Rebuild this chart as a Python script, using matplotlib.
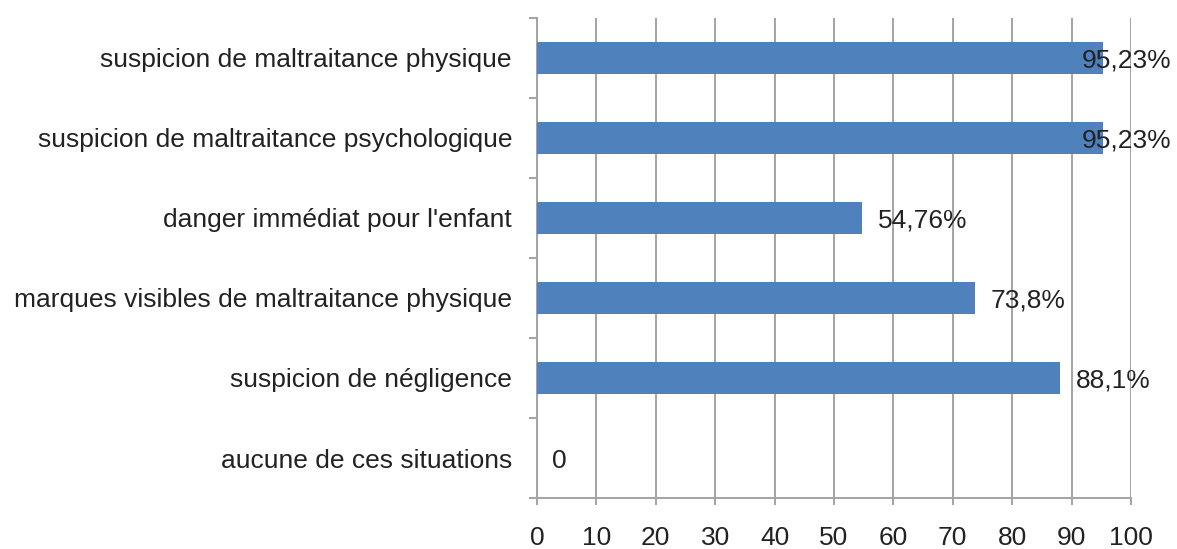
import matplotlib
matplotlib.use("Agg")
import matplotlib.pyplot as plt
import numpy as np

# data, top to bottom as in the chart
categories = [
    "suspicion de maltraitance physique",
    "suspicion de maltraitance psychologique",
    "danger immédiat pour l'enfant",
    "marques visibles de maltraitance physique",
    "suspicion de négligence",
    "aucune de ces situations",
]
values = [95.23, 95.23, 54.76, 73.8, 88.1, 0]
value_labels = ["95,23%", "95,23%", "54,76%", "73,8%", "88,1%", "0"]
x_ticks = list(range(0, 101, 10))

plt.rcParams['font.family'] = ['Liberation Sans', 'DejaVu Sans']

bar_color = "#4F81BD"
grid_color = "#A3A3A3"
text_color = "#222222"
fs = 19

fig = plt.figure(figsize=(11.77, 5.49), dpi=100)
ax = fig.add_axes([537 / 1177, 1 - 498 / 549, (1131 - 537) / 1177, 480 / 549])

y = np.arange(len(categories))
ax.barh(y, values, height=0.39, color=bar_color, zorder=3)

ax.set_xlim(0, 100)
ax.set_ylim(len(categories) - 0.5, -0.5)

# vertical gridlines
ax.set_xticks(x_ticks)
ax.xaxis.grid(True, color=grid_color, linewidth=1.4, zorder=0)
ax.set_axisbelow(True)

# category labels at centers, tick marks at boundaries
ax.set_yticks(y)
ax.set_yticklabels(categories)
ax.set_yticks(np.arange(-0.5, len(categories), 1.0), minor=True)
ax.tick_params(axis='y', which='major', length=0, pad=18, labelsize=fs, labelcolor=text_color)
ax.tick_params(axis='y', which='minor', length=6, width=1.4, color=grid_color, direction='out')
ax.tick_params(axis='x', length=5, width=1.4, color=grid_color, pad=15, labelsize=fs,
               labelcolor=text_color)

for s in ['top', 'right']:
    ax.spines[s].set_visible(False)
for s in ['left', 'bottom']:
    ax.spines[s].set_color(grid_color)
    ax.spines[s].set_linewidth(1.4)

# data labels; those that would run off the right edge are pulled back
for i, (v, lab) in enumerate(zip(values, value_labels)):
    if v > 90:
        ax.annotate(lab, xy=(1171 / 1177, i), xycoords=('figure fraction', 'data'),
                    xytext=(0, -2), textcoords='offset points',
                    ha='right', va='center', fontsize=fs, color=text_color, zorder=4)
    else:
        ax.annotate(lab, xy=(v, i), xytext=(11, -2), textcoords='offset points',
                    ha='left', va='center', fontsize=fs, color=text_color, zorder=4)

fig.savefig("out.png", dpi=100)
